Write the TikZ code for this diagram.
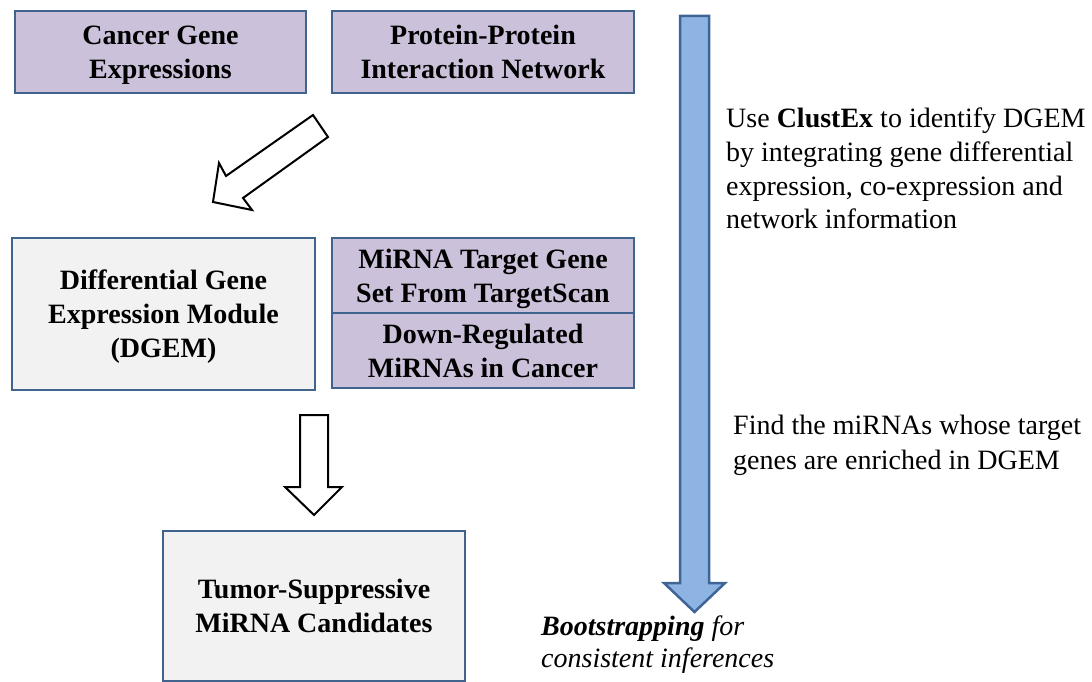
\documentclass[tikz,border=0pt]{standalone}
\usepackage{fontspec}
\setmainfont{Liberation Serif}
\definecolor{boxpurple}{HTML}{CCC1DA}
\definecolor{boxgrey}{HTML}{F2F2F2}
\definecolor{boxline}{HTML}{41648F}
\definecolor{bluefill}{HTML}{8EB4E3}
\definecolor{blueline}{HTML}{3F6596}
\begin{document}
\begin{tikzpicture}[x=1pt,y=-1pt,
 box/.style={draw=boxline, line width=2.5pt, align=center, inner sep=0pt, text depth=0pt,
   font=\fontsize{28}{34}\selectfont\bfseries},
 purplebox/.style={box, fill=boxpurple},
 greybox/.style={box, fill=boxgrey},
 hollow/.style={draw=black, line width=2pt, fill=white, line join=miter},
 bigarrow/.style={draw=blueline, fill=bluefill, line width=2.5pt, line join=miter},
 txt/.style={align=left, anchor=west, inner sep=0pt}]
\useasboundingbox (0,0) rectangle (1092,682);

% top row
\node[purplebox, minimum width=291pt, minimum height=82pt] (cge) at (160.5,52) {Cancer Gene\\Expressions};
\node[purplebox, minimum width=302pt, minimum height=82pt] (ppi) at (483,52) {Protein-Protein\\Interaction Network};

% middle row
\node[greybox, minimum width=303pt, minimum height=152pt] (dgem) at (163.5,314) {Differential Gene\\Expression Module\\(DGEM)};
\node[purplebox, minimum width=302pt, minimum height=75pt] (tgs) at (483,275.5) {MiRNA Target Gene\\Set From TargetScan};
\node[purplebox, minimum width=302pt, minimum height=75pt] (drm) at (483,350.5) {Down-Regulated\\MiRNAs in Cancer};

% bottom
\node[greybox, minimum width=302pt, minimum height=150pt] (tsm) at (314,606) {Tumor-Suppressive\\MiRNA Candidates};

% hollow block arrows
\draw[hollow] (313,115) -- (328,137) -- (243,198) -- (252,210) -- (213,202) -- (219,163) -- (226,176) -- cycle;
\draw[hollow] (300,415) -- (328,415) -- (328,487) -- (342,487) -- (314,515) -- (285,487) -- (300,487) -- cycle;

% big blue arrow
\draw[bigarrow] (680,16) -- (709,16) -- (709,583) -- (725,583) -- (694.5,612) -- (664,583) -- (680,583) -- cycle;

% texts
\node[txt, font=\fontsize{28}{33.7}\selectfont] (t1) at (726,168.5) {Use \textbf{ClustEx} to identify DGEM\\by integrating gene differential\\expression, co-expression and\\network information};
\node[txt, font=\fontsize{28}{35}\selectfont] (t2) at (733,445.5) {Find the miRNAs whose target\\genes are enriched in DGEM};
\node[txt, font=\fontsize{28}{32}\selectfont\itshape] (t3) at (541,645) {\textbf{Bootstrapping} for\\consistent inferences};
\end{tikzpicture}
\end{document}
